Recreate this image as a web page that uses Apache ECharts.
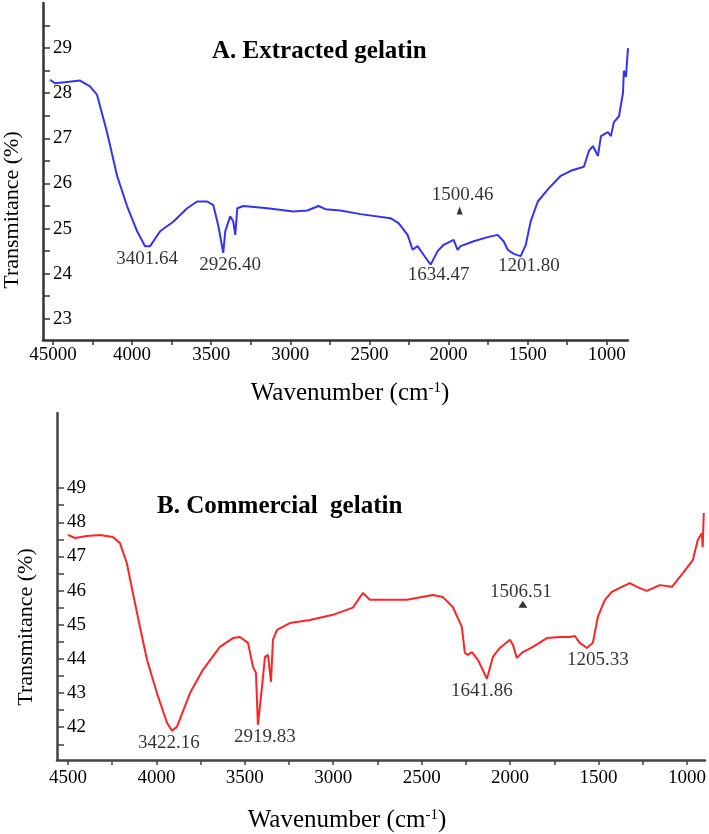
<!DOCTYPE html>
<html>
<head>
<meta charset="utf-8">
<script src="https://cdn.jsdelivr.net/npm/echarts@6/dist/echarts.min.js"></script>
<style>
  html, body { margin: 0; padding: 0; background: #fff; }
  #chart { width: 709px; height: 834px; }
</style>
</head>
<body>
<div id="chart"></div>
<script>
// Panel A - extracted gelatin (wavenumber, transmittance)
const waveA = [4519, 4487, 4411, 4329, 4266, 4222, 4158, 4095, 4032, 3968, 3918, 3886, 3823, 3740, 3652, 3589, 3525, 3487, 3456, 3424, 3411, 3380, 3361, 3348, 3335, 3297, 3145, 2980, 2892, 2822, 2778, 2683, 2557, 2367, 2316, 2259, 2227, 2196, 2158, 2113, 2069, 2031, 1968, 1943, 1924, 1841, 1753, 1690, 1652, 1626, 1588, 1544, 1512, 1481, 1436, 1367, 1291, 1228, 1145, 1113, 1088, 1056, 1037, 993, 974, 955, 923, 898, 892, 879, 866];
const transA = [28.30, 28.22, 28.25, 28.28, 28.15, 27.97, 27.13, 26.17, 25.50, 24.94, 24.61, 24.61, 24.94, 25.15, 25.45, 25.60, 25.60, 25.52, 25.08, 24.46, 24.94, 25.27, 25.16, 24.86, 25.45, 25.50, 25.45, 25.38, 25.40, 25.50, 25.43, 25.40, 25.32, 25.23, 25.12, 24.86, 24.53, 24.61, 24.42, 24.20, 24.50, 24.64, 24.75, 24.53, 24.61, 24.72, 24.81, 24.86, 24.72, 24.53, 24.44, 24.39, 24.64, 25.16, 25.60, 25.89, 26.17, 26.28, 26.37, 26.72, 26.83, 26.61, 27.05, 27.14, 27.05, 27.36, 27.49, 28.00, 28.50, 28.36, 29.00];

// Panel B - commercial gelatin
const waveB = [4500, 4460, 4393, 4319, 4246, 4206, 4167, 4133, 4093, 4053, 3997, 3940, 3912, 3884, 3810, 3737, 3641, 3567, 3528, 3482, 3454, 3437, 3426, 3403, 3386, 3369, 3352, 3341, 3318, 3245, 3132, 3002, 2889, 2849, 2832, 2793, 2584, 2437, 2380, 2324, 2273, 2256, 2239, 2216, 2182, 2131, 2097, 2058, 2001, 1984, 1962, 1928, 1871, 1792, 1719, 1662, 1634, 1606, 1566, 1532, 1504, 1464, 1425, 1368, 1323, 1283, 1227, 1153, 1085, 1023, 967, 939, 916, 911, 905];
const transB = [47.63, 47.54, 47.60, 47.63, 47.57, 47.39, 46.80, 45.93, 44.94, 43.97, 43.00, 42.13, 41.90, 42.01, 43.00, 43.68, 44.35, 44.61, 44.64, 44.47, 43.77, 43.59, 42.07, 43.18, 44.06, 44.12, 43.33, 44.56, 44.85, 45.05, 45.14, 45.29, 45.50, 45.81, 45.93, 45.73, 45.73, 45.87, 45.81, 45.52, 44.94, 44.18, 44.12, 44.20, 43.97, 43.42, 44.06, 44.32, 44.56, 44.41, 44.03, 44.20, 44.35, 44.61, 44.64, 44.64, 44.67, 44.47, 44.32, 44.47, 45.23, 45.73, 45.96, 46.11, 46.22, 46.11, 45.99, 46.16, 46.11, 46.51, 46.89, 47.48, 47.68, 47.27, 48.27];

// peak labels: [text, wavenumber, transmittance]
const peaksA = [['3401.64', 3905, 24.33], ['2926.40', 3380, 24.20], ['1634.47', 2063, 23.96], ['1201.80', 1493, 24.18], ['1500.46', 1911, 25.75]];
const peaksB = [['3422.16', 3929, 41.54], ['2919.83', 3386, 41.72], ['1641.86', 2160, 43.06], ['1205.33', 1504, 43.97], ['1506.51', 1939, 45.96]];
const markerA = [[1930, 25.40]];
const markerB = [[1928, 45.60]];

// ticks
const xTicks = [1000, 1250, 1500, 1750, 2000, 2250, 2500, 2750, 3000, 3250, 3500, 3750, 4000, 4250, 4500];
const xLabelVals = [1000, 1500, 2000, 2500, 3000, 3500, 4000, 4500];
const xLabelsA = ['1000', '1500', '2000', '2500', '3000', '3500', '4000', '45000'];
const xLabelsB = ['1000', '1500', '2000', '2500', '3000', '3500', '4000', '4500'];
const yTicksA = [23, 23.5, 24, 24.5, 25, 25.5, 26, 26.5, 27, 27.5, 28, 28.5, 29, 29.5];
const yLabelsA = [23, 24, 25, 26, 27, 28, 29];
const yTicksB = [41.5, 42, 42.5, 43, 43.5, 44, 44.5, 45, 45.5, 46, 46.5, 47, 47.5, 48, 48.5, 49];
const yLabelsB = [42, 43, 44, 45, 46, 47, 48, 49];

const serif = '"Liberation Serif", "DejaVu Serif", serif';
const pair = (xs, ys) => xs.map((x, i) => [x, ys[i]]);

function xAxisFor(gridIndex, min, max, labels, gap, pad, margin, axisColor) {
  return {
    type: 'value', gridIndex, min, max, inverse: true,
    splitLine: { show: false },
    axisLine: { lineStyle: { color: axisColor, width: 2.5 } },
    axisTick: { customValues: xTicks, length: 5, lineStyle: { color: axisColor, width: 1.5 } },
    axisLabel: {
      customValues: xLabelVals, margin, color: '#000', fontSize: 19, fontFamily: serif,
      formatter: v => labels[xLabelVals.indexOf(v)] || ''
    },
    name: 'Wavenumber (cm{sup|-1})',
    nameLocation: 'middle', nameGap: gap,
    nameTextStyle: {
      color: '#000', fontSize: 25, fontFamily: serif, padding: pad,
      rich: { sup: { fontSize: 15, fontFamily: serif, color: '#000', verticalAlign: 'top' } }
    }
  };
}

function yAxisFor(gridIndex, min, max, ticks, labels, pad, axisColor) {
  return {
    type: 'value', gridIndex, min, max,
    splitLine: { show: false },
    axisLine: { show: true, lineStyle: { color: axisColor, width: 2.5 } },
    axisTick: { show: true, inside: true, customValues: ticks, length: 7, lineStyle: { color: axisColor, width: 1.5 } },
    axisLabel: { inside: true, customValues: labels, margin: 10, color: '#000', fontSize: 19, fontFamily: serif },
    name: 'Transmitance (%)',
    nameLocation: 'middle', nameGap: 20,
    nameTextStyle: { color: '#000', fontSize: 22, fontFamily: serif, padding: pad }
  };
}

function peakSeries(idx, peaks) {
  return {
    type: 'scatter', xAxisIndex: idx, yAxisIndex: idx,
    symbolSize: 1, itemStyle: { color: 'rgba(0,0,0,0)' },
    data: peaks.map(p => ({ name: p[0], value: [p[1], p[2]] })),
    label: { show: true, position: 'inside', formatter: '{b}', color: '#000', fontSize: 19, fontFamily: serif }
  };
}

const chart = echarts.init(document.getElementById('chart'), null, { renderer: 'canvas' });
chart.setOption({
  animation: false,
  backgroundColor: '#fff',
  title: [
    { text: 'A. Extracted gelatin', left: 212, top: 39, padding: 0,
      textStyle: { fontFamily: serif, fontSize: 25, fontWeight: 'bold', color: '#000' } },
    { text: 'B. Commercial  gelatin', left: 157, top: 494, padding: 0,
      textStyle: { fontFamily: serif, fontSize: 25, fontWeight: 'bold', color: '#000' } }
  ],
  grid: [
    { left: 43, right: 81, top: 3, height: 337, outerBoundsMode: 'none' },
    { left: 57, right: 4, top: 413, height: 347, outerBoundsMode: 'none' }
  ],
  xAxis: [
    xAxisFor(0, 866, 4563, xLabelsA, 41, [0, 0, 0, 29], 6, '#333'),
    xAxisFor(1, 898, 4562, xLabelsB, 48, [0, 68, 0, 0], 9, '#444')
  ],
  yAxis: [
    yAxisFor(0, 22.53, 30.0, yTicksA, yLabelsA, [0, 77, 0, 0], '#333'),
    yAxisFor(1, 41.04, 51.2, yTicksB, yLabelsB, [0, 81, 0, 0], '#444')
  ],
  series: [
    { type: 'line', xAxisIndex: 0, yAxisIndex: 0, data: pair(waveA, transA), showSymbol: false,
      lineStyle: { color: '#3333f5', width: 2 } },
    { type: 'line', xAxisIndex: 1, yAxisIndex: 1, data: pair(waveB, transB), showSymbol: false,
      lineStyle: { color: '#ff2424', width: 2 } },
    peakSeries(0, peaksA),
    peakSeries(1, peaksB),
    { type: 'scatter', xAxisIndex: 0, yAxisIndex: 0, symbol: 'triangle', symbolSize: [6, 8],
      itemStyle: { color: '#000' }, data: markerA },
    { type: 'scatter', xAxisIndex: 1, yAxisIndex: 1, symbol: 'triangle', symbolSize: [9, 7],
      itemStyle: { color: '#000' }, data: markerB }
  ]
});
</script>
</body>
</html>
